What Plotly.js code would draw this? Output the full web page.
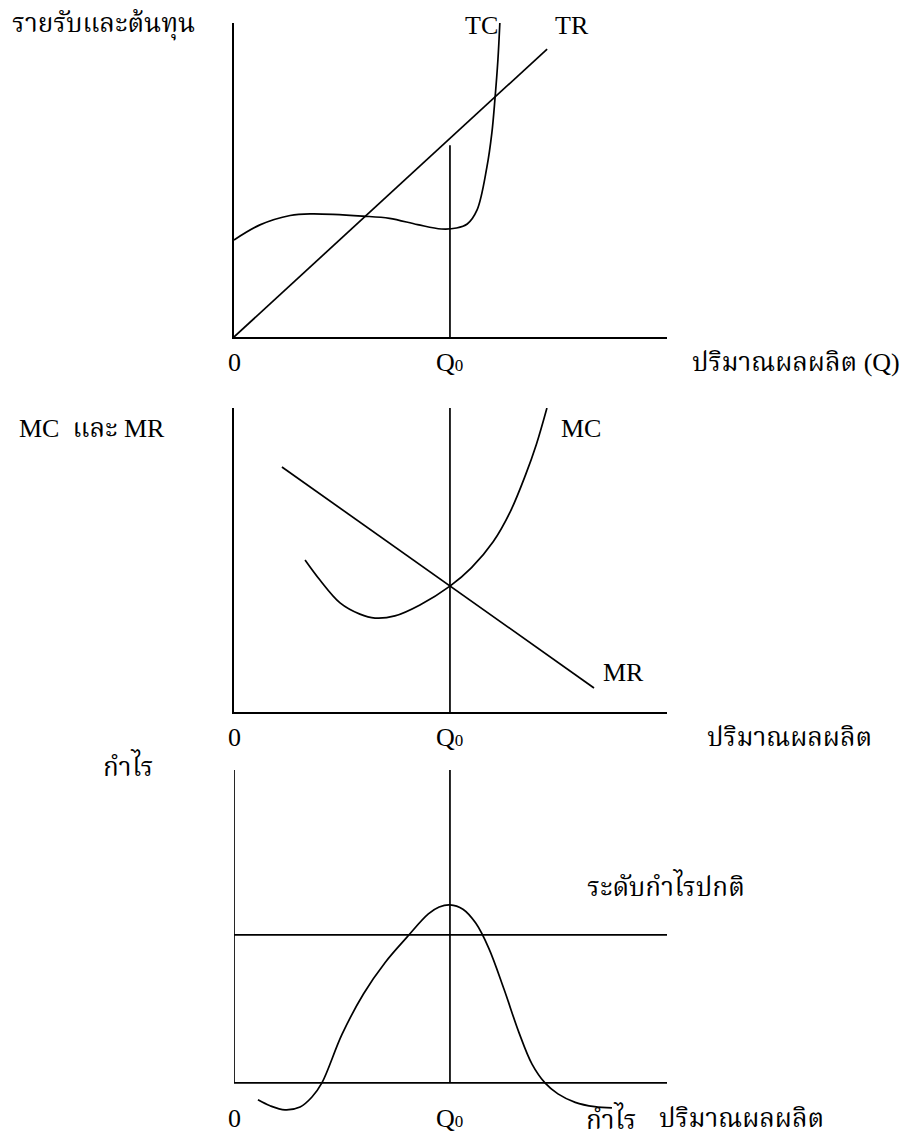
<!DOCTYPE html>
<html><head><meta charset="utf-8">
<script src="https://cdn.plot.ly/plotly-3.0.1.min.js"></script>
<style>html,body{margin:0;padding:0;background:#fff}#c{width:909px;height:1137px}</style>
</head><body><div id="c"></div>
<script>
// ---------- data (abstract units: quantity Q, value) ----------
const Q0 = 10;
// Panel 1: total revenue and total cost
const trQ = [0, 14.5];
const trV = [0, 9.17];
const tcQ = [0, 1.2, 2.6, 3.6, 5.97, 7.2, 8.5, 9.6, 10.3, 10.8, 11.25, 11.71, 11.94, 12.08, 12.22, 12.31];
const tcV = [3.09, 3.57, 3.87, 3.92, 3.85, 3.78, 3.58, 3.44, 3.47, 3.6, 4.04, 5.41, 6.5, 7.55, 8.82, 10.0];
const q0TopP1 = 6.11;
// Panel 2: marginal cost and marginal revenue
const mrQ = [2.22, 16.67];
const mrV = [8.06, 0.79];
const mcQ = [3.29, 3.98, 4.91, 5.83, 6.53, 7.45, 8.61, 10.0, 11.0, 12.0, 12.8, 13.5, 14.0, 14.49];
const mcV = [5.0, 4.34, 3.59, 3.22, 3.09, 3.16, 3.52, 4.14, 4.75, 5.6, 6.6, 7.8, 8.8, 10.0];
const q0TopP2 = 10.1;
// Panel 3: profit
const prQ = [1.11, 1.67, 2.36, 3.06, 3.61, 4.07, 5.0, 6.0, 7.0, 8.0, 9.0, 9.5, 10.0, 10.6, 11.2, 11.8, 12.5, 13.2, 13.8, 14.4, 15.0, 15.8, 16.7, 17.5];
const prV = [-0.54, -0.73, -0.86, -0.77, -0.45, 0, 1.55, 2.85, 3.85, 4.65, 5.4, 5.62, 5.69, 5.55, 5.1, 4.3, 3.0, 1.6, 0.6, 0, -0.35, -0.62, -0.76, -0.8];
const normalProfit = 4.73;
const q0TopP3 = 10;
// text labels
const tickLabels = ["0", "Q<span style='font-size:17px'>0</span>"];
const t = {
  y1: "รายรับและต้นทุน", x1: "ปริมาณผลผลิต (Q)", tc: "TC", tr: "TR",
  y2: "MC  และ MR", x2: "ปริมาณผลผลิต", mc: "MC", mr: "MR",
  y3: "กำไร", x3: "ปริมาณผลผลิต", pr: "กำไร", np: "ระดับกำไรปกติ"
};

// ---------- layout helpers ----------
const W = 909, H = 1137;
const FONT = "Liberation Serif, 'Times New Roman', 'Noto Serif Thai', serif";
const px = v => v / W, py = v => 1 - v / H;
const dom = (top, bot) => [1 - bot / H, 1 - top / H];
const xdom = [234 / W, 667 / W];
const line = {color: '#000', width: 1.7};

function trace(x, y, ax, spline) {
  return {x, y, xaxis: 'x' + ax, yaxis: 'y' + ax, mode: 'lines', hoverinfo: 'skip',
    line: Object.assign({}, line, spline ? {shape: 'spline', smoothing: 1} : {})};
}
const traces = [
  trace(trQ, trV, '', false),
  trace(tcQ, tcV, '', true),
  trace([Q0, Q0], [0, q0TopP1], '', false),
  trace(mrQ, mrV, '2', false),
  trace(mcQ, mcV, '2', true),
  trace([Q0, Q0], [0, q0TopP2], '2', false),
  trace(prQ, prV, '3', true),
  trace([0, 20.1], [normalProfit, normalProfit], '3', false),
  trace([Q0, Q0], [0, q0TopP3], '3', false),
  trace([0, 0], [0, q0TopP3], '3', false),
  trace([0, 20.1], [0, 0], '3', false)
];

function xa(anchor, range, show) {
  return {domain: xdom, range, anchor, showgrid: false, zeroline: false, showticklabels: false,
    ticks: '', showline: show, linecolor: '#000', linewidth: 1.7, fixedrange: true};
}
function ya(anchor, domain, range, show) {
  return {domain, range, anchor, showgrid: false, zeroline: false, showticklabels: false,
    ticks: '', showline: show, linecolor: '#000', linewidth: 1.7, fixedrange: true};
}
function ann(text, x, y, xref, xanchor, size) {
  return {text, x, y, xref, yref: 'paper', xanchor: xanchor || 'center', yanchor: 'middle',
    showarrow: false, font: {family: FONT, size: size || 26, color: '#000'}};
}
const annotations = [
  ann(t.y1, px(10), py(25), 'paper', 'left'),
  ann(t.tc, px(481), py(26), 'paper'),
  ann(t.tr, px(572), py(26), 'paper'),
  ann(tickLabels[0], 0, py(362), 'x'),
  ann(tickLabels[1], Q0, py(362), 'x'),
  ann(t.x1, px(690), py(362), 'paper', 'left'),
  ann(t.y2, px(17), py(428), 'paper', 'left'),
  ann(t.mc, px(581), py(428), 'paper'),
  ann(t.mr, px(623), py(672), 'paper'),
  ann(tickLabels[0], 0, py(737), 'x2'),
  ann(tickLabels[1], Q0, py(737), 'x2'),
  ann(t.x2, px(705), py(737), 'paper', 'left'),
  ann(t.y3, px(128), py(765), 'paper'),
  ann(t.np, px(585), py(885), 'paper', 'left'),
  ann(tickLabels[0], 0, py(1118), 'x3'),
  ann(tickLabels[1], Q0, py(1118), 'x3'),
  ann(t.pr, px(611), py(1118), 'paper'),
  ann(t.x3, px(657), py(1118), 'paper', 'left')
];

const layout = {
  width: W, height: H, margin: {l: 0, r: 0, t: 0, b: 0},
  paper_bgcolor: '#fff', plot_bgcolor: 'rgba(0,0,0,0)', showlegend: false,
  xaxis: xa('y', [0, 20.05], true),
  yaxis: ya('x', dom(23, 337), [0, 10], true),
  xaxis2: xa('y2', [0, 20.05], true),
  yaxis2: ya('x2', dom(408, 712), [0, 10], true),
  xaxis3: xa('y3', [0, 20.05], false),
  yaxis3: ya('x3', [1 - 1133 / H, 1 - 770 / H], [-1.6, 10], false),
  annotations
};
Plotly.newPlot('c', traces, layout, {displayModeBar: false, staticPlot: true});
</script></body></html>
